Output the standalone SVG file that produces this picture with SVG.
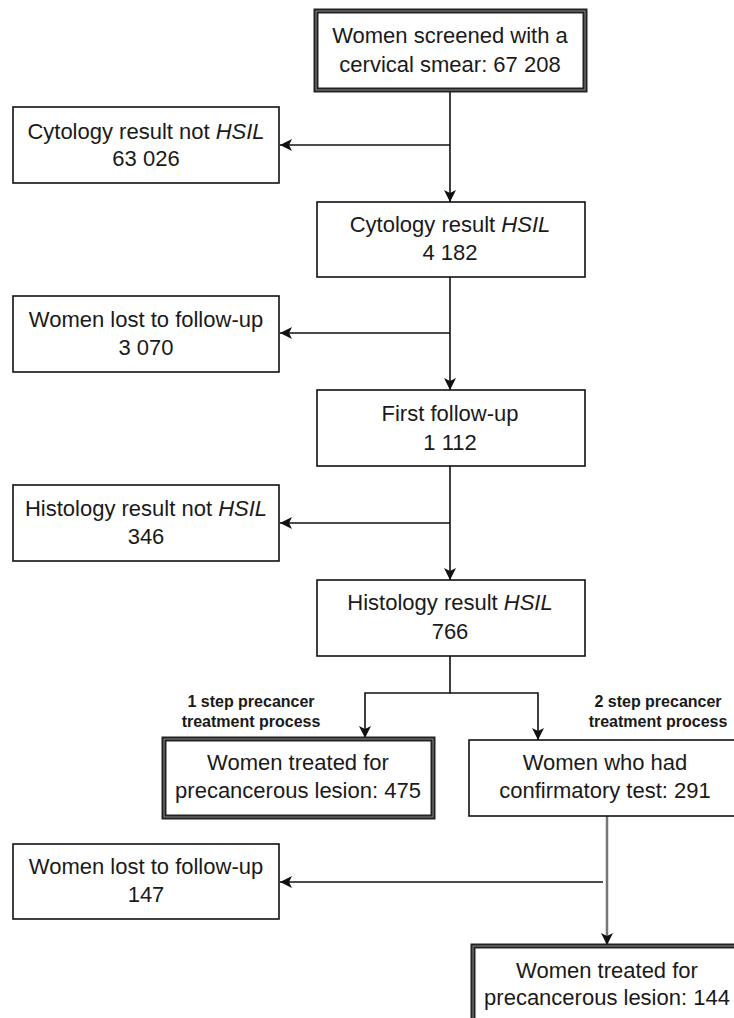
<svg xmlns="http://www.w3.org/2000/svg" width="734" height="1018" viewBox="0 0 734 1018">
<style>
.box{fill:#fff;stroke:#111;stroke-width:1.6}
.dbl{fill:#fff;stroke:#222;stroke-width:5}
.dbli{fill:none;stroke:#888;stroke-width:1}
.t{font-family:"Liberation Sans",Arial,sans-serif;font-size:22px;fill:#1a1a1a;text-anchor:middle}
.lbl{font-family:"Liberation Sans",Arial,sans-serif;font-size:16px;font-weight:bold;fill:#1a1a1a;text-anchor:middle}
.c{fill:none;stroke:#111;stroke-width:1.6}
.g{fill:none;stroke:#777;stroke-width:2.5}
</style>
<defs>
<marker id="ah" viewBox="0 0 12 12" refX="12" refY="6" markerWidth="12" markerHeight="12" markerUnits="userSpaceOnUse" orient="auto">
<path d="M0,0 L12,6 L0,12 L3,6 Z" fill="#111"/>
</marker>
</defs>
<g id="connectors">
<path class="c" d="M450,90 V202" marker-end="url(#ah)"/>
<path class="c" d="M450,145 H280" marker-end="url(#ah)"/>
<path class="c" d="M450,277 V390" marker-end="url(#ah)"/>
<path class="c" d="M450,333 H280" marker-end="url(#ah)"/>
<path class="c" d="M450,466 V580" marker-end="url(#ah)"/>
<path class="c" d="M450,523 H280" marker-end="url(#ah)"/>
<path class="c" d="M450,656 V693 H365 V738" marker-end="url(#ah)"/>
<path class="c" d="M450,693 H538 V740" marker-end="url(#ah)"/>
<path class="g" d="M607,816 V945" marker-end="url(#ah)"/>
<path class="c" d="M603,882 H280" marker-end="url(#ah)"/>
</g>
<g id="n1">
<rect class="dbl" x="316" y="11" width="269" height="79"/>
<rect class="dbli" x="316" y="11" width="269" height="79"/>
<text class="t" x="450" y="43">Women screened with a</text>
<text class="t" x="450" y="72">cervical smear: 67 208</text>
</g>
<g id="n2">
<rect class="box" x="13" y="107" width="266" height="76"/>
<text class="t" x="146" y="139">Cytology result not <tspan font-style="italic">HSIL</tspan></text>
<text class="t" x="146" y="166">63 026</text>
</g>
<g id="n3">
<rect class="box" x="317" y="202" width="268" height="75"/>
<text class="t" x="450" y="232">Cytology result <tspan font-style="italic">HSIL</tspan></text>
<text class="t" x="450" y="260">4 182</text>
</g>
<g id="n4">
<rect class="box" x="13" y="296" width="266" height="76"/>
<text class="t" x="146" y="327">Women lost to follow-up</text>
<text class="t" x="146" y="355">3 070</text>
</g>
<g id="n5">
<rect class="box" x="317" y="390" width="268" height="76"/>
<text class="t" x="450" y="421">First follow-up</text>
<text class="t" x="450" y="450">1 112</text>
</g>
<g id="n6">
<rect class="box" x="13" y="485" width="266" height="76"/>
<text class="t" x="146" y="516">Histology result not <tspan font-style="italic">HSIL</tspan></text>
<text class="t" x="146" y="544">346</text>
</g>
<g id="n7">
<rect class="box" x="317" y="580" width="268" height="76"/>
<text class="t" x="450" y="610">Histology result <tspan font-style="italic">HSIL</tspan></text>
<text class="t" x="450" y="639">766</text>
</g>
<g id="lbl1">
<text class="lbl" x="251" y="707">1 step precancer</text>
<text class="lbl" x="251" y="727">treatment process</text>
</g>
<g id="lbl2">
<text class="lbl" x="658" y="707">2 step precancer</text>
<text class="lbl" x="658" y="727">treatment process</text>
</g>
<g id="n8">
<rect class="dbl" x="164" y="739" width="269" height="78"/>
<rect class="dbli" x="164" y="739" width="269" height="78"/>
<text class="t" x="298" y="770">Women treated for</text>
<text class="t" x="298" y="798">precancerous lesion: 475</text>
</g>
<g id="n9">
<rect class="box" x="469" y="740" width="266" height="76"/>
<text class="t" x="605" y="770">Women who had</text>
<text class="t" x="605" y="798">confirmatory test: 291</text>
</g>
<g id="n10">
<rect class="box" x="13" y="844" width="266" height="75"/>
<text class="t" x="146" y="874">Women lost to follow-up</text>
<text class="t" x="146" y="902">147</text>
</g>
<g id="n11">
<rect class="dbl" x="473" y="946" width="270" height="80"/>
<rect class="dbli" x="473" y="946" width="270" height="80"/>
<text class="t" x="607" y="978">Women treated for</text>
<text class="t" x="607" y="1005">precancerous lesion: 144</text>
</g>
</svg>
